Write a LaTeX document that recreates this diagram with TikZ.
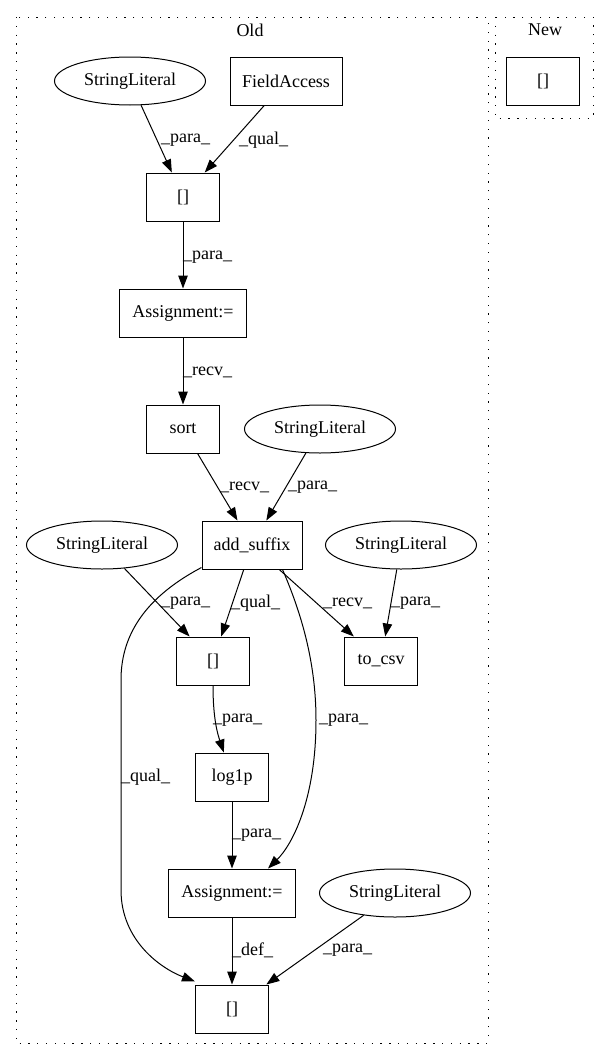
\documentclass[tikz,border=0pt]{standalone}
\usepackage{fontspec}
\setmainfont{Liberation Serif}
\usetikzlibrary{shapes.geometric,arrows.meta}
\begin{document}
\begin{tikzpicture}[x=1pt,y=-1pt,
  every node/.style={font=\fontsize{18}{20}\selectfont},
  box/.style={draw,line width=1pt,rectangle,inner sep=0pt,minimum height=48pt},
  oval/.style={draw,line width=1pt,ellipse,inner sep=0pt,minimum width=151pt,minimum height=48pt},
  lbl/.style={anchor=west,inner sep=0pt},
  edge/.style={line width=1pt,-{Triangle[length=13pt,width=9.5pt]}},
  cluster/.style={line width=1pt,dash pattern=on 1.3pt off 7.5pt}]
\useasboundingbox (0,0) rectangle (603,1060);
% clusters
\draw[cluster] (16,17) rectangle (488,1043);
\draw[cluster] (495,17) rectangle (593,118);
\node (oldt) at (250,30) {Old};
\node (newt) at (545,30) {New};
% New
\node[box,minimum width=73pt] (nb) at (543,81) {[]};
% Old nodes
\node[oval] (sl1) at (130,81) {StringLiteral};
\node[box,minimum width=112pt] (fa) at (286,81) {FieldAccess};
\node[box,minimum width=73pt] (b1) at (183,197) {[]};
\node[box,minimum width=127pt] (as1) at (183,313) {Assignment:=};
\node[box,minimum width=73pt] (sort) at (183,429) {sort};
\node[oval] (sl2) at (320,429) {StringLiteral};
\node[box,minimum width=100pt] (add) at (252,545) {add\_suffix};
\node[oval] (sl3) at (102,545) {StringLiteral};
\node[oval] (sl4) at (401,545) {StringLiteral};
\node[box,minimum width=73pt] (b2) at (213,661) {[]};
\node[box,minimum width=73pt] (csv) at (381,661) {to\_csv};
\node[box,minimum width=73pt] (log) at (232,777) {log1p};
\node[box,minimum width=127pt] (as2) at (232,893) {Assignment:=};
\node[oval] (sl5) at (395,893) {StringLiteral};
\node[box,minimum width=73pt] (b3) at (232,1009) {[]};
% edges
\draw[edge] (sl1) -- (b1);
\draw[edge] (fa) -- (b1);
\draw[edge] (b1) -- (as1);
\draw[edge] (as1) -- (sort);
\draw[edge] (sort) -- (add);
\draw[edge] (sl2) -- (add);
\draw[edge] (sl3) -- (b2);
\draw[edge] (add) -- (b2);
\draw[edge] (add) -- (csv);
\draw[edge] (sl4) -- (csv);
\draw[edge] ([xshift=-20pt]add.south east) .. controls (300,610) and (316,660) .. (316,720) .. controls (316,800) and (292,845) .. ([xshift=-28pt]as2.north east);
\draw[edge] ([yshift=2pt]add.south west) .. controls (140,600) and (121,640) .. (121,680) -- (121,890) .. controls (121,940) and (160,968) .. ([yshift=3pt]b3.north west);
\draw[edge] (b2) .. controls (213,720) and (218,735) .. (log);
\draw[edge] (log) -- (as2);
\draw[edge] (as2) -- (b3);
\draw[edge] (sl5) -- (b3);
% labels
\node[lbl] (l1) at (161,140) {\_para\_};
\node[lbl] (l2) at (239,140) {\_qual\_};
\node[lbl] (l3) at (183,257) {\_para\_};
\node[lbl] (l4) at (183,372) {\_recv\_};
\node[lbl] (l5) at (220,487) {\_recv\_};
\node[lbl] (l6) at (288,487) {\_para\_};
\node[lbl] (l7) at (161,603) {\_para\_};
\node[lbl] (l8) at (231,603) {\_qual\_};
\node[lbl] (l9) at (323,603) {\_recv\_};
\node[lbl] (l10) at (391,603) {\_para\_};
\node[lbl] (l11) at (319,720) {\_para\_};
\node[lbl] (l12) at (121,777) {\_qual\_};
\node[lbl] (l13) at (213,720) {\_para\_};
\node[lbl] (l14) at (232,835) {\_para\_};
\node[lbl] (l15) at (232,950) {\_def\_};
\node[lbl] (l16) at (323,950) {\_para\_};
\end{tikzpicture}
\end{document}
